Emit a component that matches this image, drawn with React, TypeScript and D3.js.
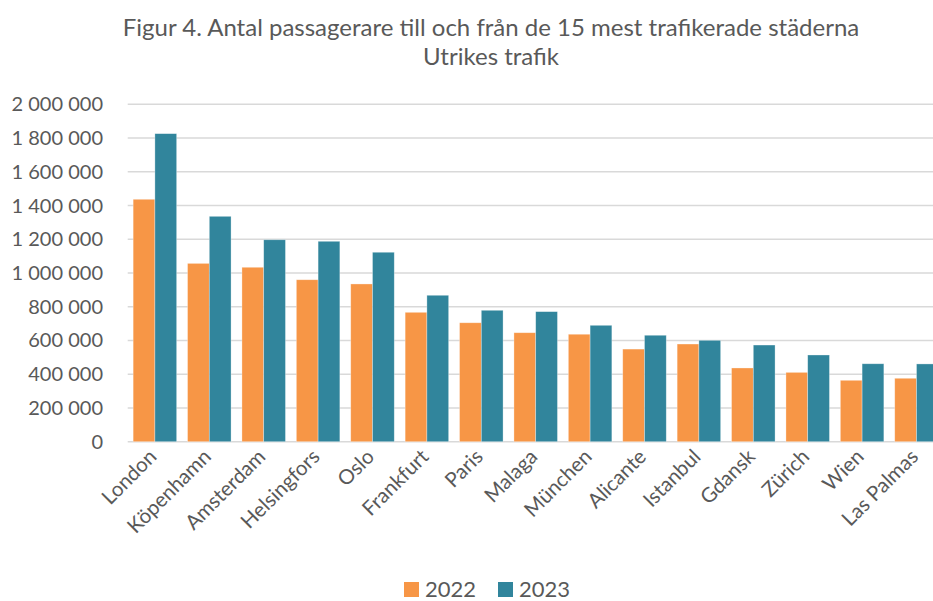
import React from "react";
import * as d3 from "d3";

const cities = ["London","Köpenhamn","Amsterdam","Helsingfors","Oslo","Frankfurt","Paris","Malaga","München","Alicante","Istanbul","Gdansk","Zürich","Wien","Las Palmas"];
const values2022 = [1437000,1057000,1034000,960000,935000,767000,705000,646000,637000,549000,579000,437000,411000,364000,376000];
const values2023 = [1826000,1336000,1197000,1188000,1123000,868000,779000,771000,690000,631000,601000,573000,514000,462000,461000];
const seriesNames = ["2022","2023"];
const seriesColors = ["#F79646","#31859C"];
const yTicks = [0,200000,400000,600000,800000,1000000,1200000,1400000,1600000,1800000,2000000];
const titleLines = ["Figur 4. Antal passagerare till och från de 15 mest trafikerade städerna","Utrikes trafik"];

const W = 933, H = 601;
const left = 127.7, top = 104.3, bottom = 441.7;
const font = "Lato, 'Open Sans', sans-serif";
const textColor = "#595959";

export default function App() {
  const x = d3.scaleBand<string>().domain(cities).range([left, left + 15 * 54.4]).paddingInner(0.2).paddingOuter(0.1);
  const y = d3.scaleLinear().domain([0, 2000000]).range([bottom, top]);
  const bw = x.bandwidth() / 2;
  const fmt = (v: number) => d3.format(",")(v).replace(/,/g, " ");
  const series = [values2022, values2023];
  return (
    <svg width={W} height={H} style={{ position: "absolute", left: 0, top: 0, background: "#fff" }} fontFamily={font}>
      {titleLines.map((t, i) => (
        <text key={i} x={491} y={36 + i * 29} textAnchor="middle" fontSize={24} fill={textColor}>{t}</text>
      ))}
      {yTicks.map((t) => (
        <g key={t}>
          <line x1={left} x2={W} y1={y(t)} y2={y(t)} stroke="#D9D9D9" strokeWidth={1.5} />
          <text x={103} y={y(t)} dy="0.35em" textAnchor="end" fontSize={20} fill={textColor}>{fmt(t)}</text>
        </g>
      ))}
      {cities.map((c, i) => (
        <g key={c}>
          {series.map((s, k) => (
            <rect key={k} x={(x(c) as number) + k * bw} y={y(s[i])} width={bw} height={bottom - y(s[i])}
              fill={seriesColors[k]} stroke="rgba(255,255,255,0.45)" strokeWidth={0.7} />
          ))}
          <text transform={`translate(${(x(c) as number) + x.bandwidth() / 2 + 3},${458}) rotate(-45)`}
            textAnchor="end" fontSize={20.5} fill={textColor}>{c}</text>
        </g>
      ))}
      {seriesNames.map((n, k) => (
        <g key={n} transform={`translate(${404 + k * 94},582)`}>
          <rect x={0} y={0} width={15} height={15} fill={seriesColors[k]} />
          <text x={21} y={14.5} fontSize={22} fill={textColor}>{n}</text>
        </g>
      ))}
    </svg>
  );
}
